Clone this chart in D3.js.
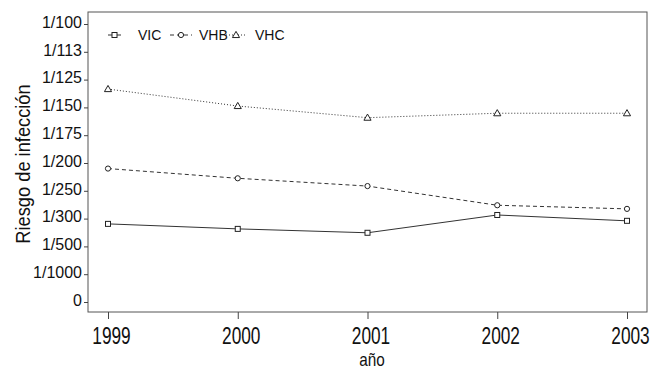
<!DOCTYPE html>
<html>
<head>
<meta charset="utf-8">
<script src="https://cdn.jsdelivr.net/npm/d3@7"></script>
<style>
  html, body { margin: 0; padding: 0; background: #fff; }
  svg { display: block; }
  text { font-family: "Liberation Sans", Arial, sans-serif; fill: #111; }
</style>
</head>
<body>
<svg id="chart" width="662" height="369"></svg>
<script>
// ---- data ----
const years = [1999, 2000, 2001, 2002, 2003];
// y positions on the risk axis (0 = "0", 10 = "1/100"), tick index units
const vic = [2.81, 2.63, 2.49, 3.13, 2.92];
const vhb = [4.80, 4.45, 4.17, 3.48, 3.35];
const vhc = [7.66, 7.05, 6.63, 6.79, 6.79];
const seriesNames = ["VIC", "VHB", "VHC"];
const yTickLabels = ["0", "1/1000", "1/500", "1/300", "1/250", "1/200", "1/175", "1/150", "1/125", "1/113", "1/100"];
const xLabel = "año";
const yLabel = "Riesgo de infección";

// ---- layout ----
const svg = d3.select("#chart");
const L = 88, R = 647, T = 12, B = 312;
const x = d3.scaleLinear().domain([1999, 2003]).range([108, 627]);
const y = d3.scaleLinear().domain([0, 10]).range([302, 24]);

// frame
svg.append("rect").attr("x", L).attr("y", T).attr("width", R - L).attr("height", B - T)
  .attr("fill", "none").attr("stroke", "#555").attr("stroke-width", 1);

// y axis
const yAxis = d3.axisLeft(y).tickValues(d3.range(0, 11)).tickSize(4).tickPadding(2)
  .tickFormat(i => yTickLabels[i]);
const gy = svg.append("g").attr("transform", `translate(${L},0)`).call(yAxis);
gy.select(".domain").remove();
gy.selectAll(".tick line").attr("stroke", "#444");
gy.selectAll(".tick text").attr("font-size", 16).attr("dy", "0.2em")
  .style("font-family", '"Liberation Sans", Arial, sans-serif').attr("fill", "#111");

// x axis
const xAxis = d3.axisBottom(x).tickValues(years).tickSize(7).tickPadding(5).tickFormat(d3.format("d"));
const gx = svg.append("g").attr("transform", `translate(0,${B})`).call(xAxis);
gx.select(".domain").remove();
gx.selectAll(".tick line").attr("stroke", "#444");
gx.selectAll(".tick text").attr("font-size", 24).attr("dy", "0.85em")
  .style("font-family", '"Liberation Sans", Arial, sans-serif').attr("fill", "#111")
  .attr("transform", "translate(3,0) scale(0.72,1)")
  .attr("x", 0);

// axis titles
svg.append("text").attr("x", 0).attr("y", 0).attr("text-anchor", "middle")
  .attr("font-size", 18).attr("transform", "translate(372,365.5) scale(0.85,1)")
  .text(xLabel);
svg.append("text").attr("transform", "translate(30,164) rotate(-90) scale(0.87,1)")
  .attr("text-anchor", "middle").attr("font-size", 21).text(yLabel);

// lines
const series = [
  { name: seriesNames[0], values: vic, dash: null, marker: "square" },
  { name: seriesNames[1], values: vhb, dash: "4,3", marker: "circle" },
  { name: seriesNames[2], values: vhc, dash: "1,2", marker: "triangle" }
];
const line = d3.line().x((d, i) => x(years[i])).y(d => y(d));

function drawMarker(g, type, cx, cy) {
  if (type === "square") {
    g.append("rect").attr("x", cx - 2.5).attr("y", cy - 2.5).attr("width", 5).attr("height", 5)
      .attr("fill", "#fff").attr("stroke", "#222").attr("stroke-width", 1);
  } else if (type === "circle") {
    g.append("circle").attr("cx", cx).attr("cy", cy).attr("r", 2.6)
      .attr("fill", "#fff").attr("stroke", "#222").attr("stroke-width", 1);
  } else {
    g.append("path").attr("d", d3.symbol(d3.symbolTriangle, 22)()).attr("transform", `translate(${cx},${cy + 0.5})`)
      .attr("fill", "#fff").attr("stroke", "#222").attr("stroke-width", 1);
  }
}

series.forEach(s => {
  svg.append("path").datum(s.values).attr("d", line).attr("fill", "none")
    .attr("stroke", "#333").attr("stroke-width", 1)
    .attr("stroke-dasharray", s.dash);
  const g = svg.append("g");
  s.values.forEach((v, i) => drawMarker(g, s.marker, x(years[i]), y(v)));
});

// legend
const legendItems = [
  { s: series[0], x0: 108, x1: 121, tx: 138 },
  { s: series[1], x0: 170, x1: 192, tx: 199 },
  { s: series[2], x0: 226, x1: 246, tx: 255 }
];
const ly = 35;
legendItems.forEach(it => {
  svg.append("line").attr("x1", it.x0).attr("x2", it.x1).attr("y1", ly).attr("y2", ly)
    .attr("stroke", "#333").attr("stroke-width", 1).attr("stroke-dasharray", it.s.dash);
  drawMarker(svg, it.s.marker, (it.x0 + it.x1) / 2, ly);
  svg.append("text").attr("x", it.tx).attr("y", ly + 5).attr("font-size", 14).text(it.s.name);
});
</script>
</body>
</html>
